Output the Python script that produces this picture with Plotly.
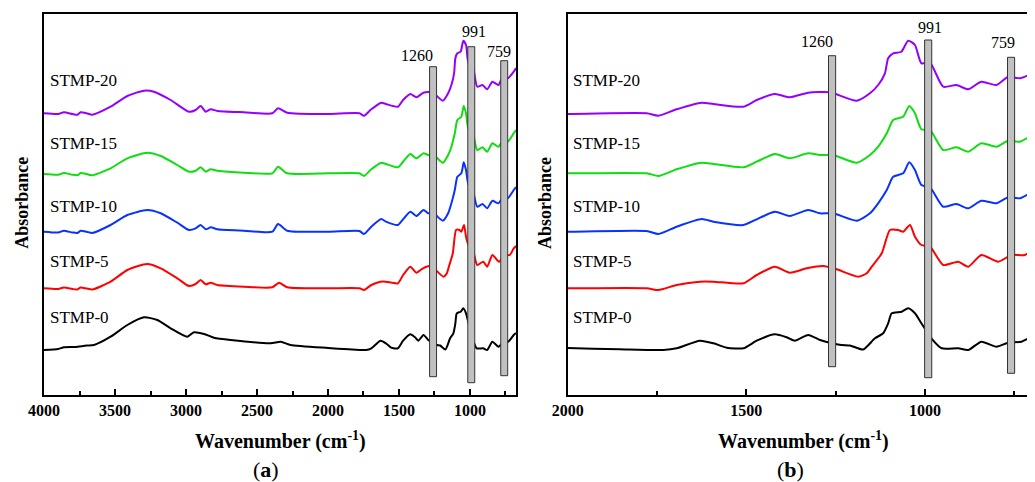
import plotly.graph_objects as go

# ---------------- data ----------------
SERIES = ["STMP-0", "STMP-5", "STMP-10", "STMP-15", "STMP-20"]
COLORS = ["#000000", "#ff0000", "#0a32ff", "#10dd10", "#9400ff"]

WN_0 = [4000, 3900, 3859, 3780, 3700, 3648, 3531, 3413, 3296, 3202, 3108, 2991, 2944,
        2873, 2803, 2685, 2404, 2333, 2263, 2000, 1854, 1732, 1695, 1630, 1592, 1555,
        1508, 1471, 1420, 1387, 1364, 1327, 1294, 1266, 1233, 1210, 1173, 1140, 1117,
        1103, 1093, 1065, 1047, 1028, 1010, 982, 953, 907, 879, 842, 800, 767, 730, 692, 676]
ABS_0 = [0.45, 0.46, 0.477, 0.48, 0.495, 0.50, 0.583, 0.70, 0.777, 0.75, 0.667, 0.583, 0.627,
         0.61, 0.573, 0.55, 0.517, 0.533, 0.50, 0.47, 0.457, 0.45, 0.467, 0.543, 0.517, 0.473,
         0.467, 0.543, 0.607, 0.577, 0.543, 0.60, 0.55, 0.523, 0.50, 0.495, 0.455, 0.567, 0.617,
         0.717, 0.817, 0.833, 0.867, 0.817, 0.717, 0.567, 0.467, 0.467, 0.45, 0.533, 0.483, 0.523, 0.533, 0.60, 0.62]

WN_5 = [4000, 3900, 3860, 3800, 3765, 3742, 3700, 3660, 3531, 3413, 3273, 3178, 3061, 2979,
        2932, 2897, 2861, 2826, 2779, 2592, 2392, 2345, 2287, 2000, 1779, 1746, 1695, 1630,
        1592, 1508, 1471, 1420, 1378, 1331, 1285, 1247, 1187, 1163, 1149, 1121, 1098, 1075,
        1061, 1042, 1028, 1010, 986, 949, 907, 879, 842, 795, 758, 720, 692, 676]
ABS_5 = [1.067, 1.06, 1.075, 1.06, 1.055, 1.075, 1.065, 1.055, 1.133, 1.25, 1.31, 1.267, 1.167, 1.09,
         1.11, 1.15, 1.107, 1.123, 1.10, 1.083, 1.077, 1.123, 1.077, 1.067, 1.067, 1.05, 1.10, 1.133,
         1.133, 1.117, 1.20, 1.283, 1.223, 1.267, 1.29, 1.257, 1.183, 1.217, 1.283, 1.417, 1.65, 1.65,
         1.633, 1.70, 1.583, 1.50, 1.483, 1.30, 1.333, 1.283, 1.40, 1.333, 1.40, 1.40, 1.467, 1.49]

WN_10 = [4000, 3900, 3860, 3800, 3765, 3742, 3700, 3660, 3531, 3413, 3273, 3178, 3061, 2979,
         2932, 2897, 2861, 2826, 2779, 2592, 2392, 2352, 2287, 2000, 1779, 1746, 1695, 1625,
         1592, 1508, 1471, 1420, 1378, 1327, 1294, 1257, 1191, 1154, 1131, 1107, 1089, 1061,
         1044, 1028, 1010, 986, 949, 912, 879, 842, 800, 767, 734, 692, 676]
ABS_10 = [1.633, 1.625, 1.643, 1.625, 1.62, 1.643, 1.633, 1.62, 1.70, 1.80, 1.85, 1.817, 1.723, 1.65,
          1.667, 1.70, 1.657, 1.677, 1.657, 1.643, 1.633, 1.71, 1.643, 1.633, 1.64, 1.61, 1.683, 1.76,
          1.733, 1.70, 1.757, 1.833, 1.79, 1.85, 1.817, 1.817, 1.743, 1.817, 1.917, 2.05, 2.183, 2.217,
          2.327, 2.25, 2.10, 2.077, 1.883, 1.91, 1.867, 1.943, 1.917, 1.977, 1.967, 2.05, 2.08]

WN_15 = WN_10
ABS_15 = [2.21, 2.203, 2.22, 2.203, 2.197, 2.22, 2.21, 2.197, 2.267, 2.367, 2.423, 2.39, 2.30, 2.233,
          2.243, 2.277, 2.233, 2.257, 2.243, 2.223, 2.217, 2.283, 2.217, 2.217, 2.217, 2.19, 2.257, 2.323,
          2.31, 2.277, 2.333, 2.41, 2.367, 2.417, 2.40, 2.40, 2.323, 2.40, 2.483, 2.617, 2.75, 2.783,
          2.89, 2.817, 2.657, 2.65, 2.45, 2.477, 2.433, 2.517, 2.483, 2.543, 2.533, 2.617, 2.65]

WN_20 = [4000, 3900, 3860, 3800, 3765, 3742, 3700, 3660, 3531, 3413, 3296, 3226, 3108, 2979,
         2932, 2897, 2861, 2826, 2779, 2592, 2392, 2352, 2287, 2000, 1779, 1746, 1695, 1625,
         1592, 1508, 1471, 1420, 1378, 1327, 1266, 1191, 1154, 1131, 1112, 1103, 1089, 1066,
         1047, 1028, 1010, 986, 949, 912, 879, 842, 800, 767, 734, 692, 676]
ABS_20 = [2.817, 2.81, 2.827, 2.81, 2.803, 2.827, 2.817, 2.803, 2.883, 2.99, 3.043, 3.033, 2.95, 2.833,
          2.85, 2.89, 2.833, 2.857, 2.84, 2.827, 2.817, 2.867, 2.823, 2.81, 2.817, 2.793, 2.857, 2.923,
          2.91, 2.883, 2.95, 3.01, 2.977, 3.023, 3.027, 2.943, 3.017, 3.10, 3.217, 3.367, 3.417, 3.433,
          3.543, 3.50, 3.317, 3.323, 3.083, 3.10, 3.057, 3.133, 3.10, 3.183, 3.167, 3.233, 3.27]

PEAKS = [1260, 991, 759]
PEAK_LABELS = ["1260", "991", "759"]
TICKS_A = [4000, 3500, 3000, 2500, 2000, 1500, 1000]
TICKS_B = [2000, 1500, 1000]

WNS = [WN_0, WN_5, WN_10, WN_15, WN_20]
ABSS = [ABS_0, ABS_5, ABS_10, ABS_15, ABS_20]

# ---------------- layout helpers ----------------
# the page body adds an 8px offset, so the figure is laid out in window pixels minus 8
OFF = 8
W, H = 1035 - OFF, 482 - OFF
def px(x):
    return (x - OFF) / W
def py(y):
    return 1 - (y - OFF) / H

SERIF = "Liberation Serif"
fig = go.Figure()

for xa, ya in [("x", "y"), ("x2", "y2")]:
    for name, wn, ab, col in zip(SERIES, WNS, ABSS, COLORS):
        fig.add_trace(go.Scatter(x=wn, y=ab, mode="lines", name=name, xaxis=xa, yaxis=ya,
                                 line=dict(color=col, width=2, shape="spline", smoothing=0.6),
                                 showlegend=False, hoverinfo="skip"))

axis_common = dict(showgrid=False, zeroline=False, showline=True, linecolor="black",
                   linewidth=2, mirror=True, ticks="inside", ticklen=6, tickwidth=2,
                   tickcolor="black", automargin=False,
                   tickfont=dict(family=SERIF, size=16, color="black", weight="bold"),
                   minor=dict(dtick=250, ticks="inside", ticklen=4, tickwidth=2, tickcolor="black"))
yaxis_common = dict(showgrid=False, zeroline=False, showline=True, linecolor="black",
                    linewidth=2, mirror=True, showticklabels=False, ticks="",
                    automargin=False, range=[0, 3.81])

fig.update_layout(
    width=W, height=H, margin=dict(l=0, r=0, t=0, b=0),
    paper_bgcolor="white", plot_bgcolor="white",
    xaxis=dict(axis_common, domain=[px(44), px(516)], range=[4000, 676],
               tickvals=TICKS_A, anchor="y"),
    yaxis=dict(yaxis_common, domain=[py(395), py(14)], anchor="x"),
    xaxis2=dict(axis_common, domain=[px(567.7), 1.0], range=[2000, 692],
                tickvals=TICKS_B, anchor="y2"),
    yaxis2=dict(yaxis_common, domain=[py(395), py(14)], anchor="x2"),
)

# grey marker bars
bar_cfg = [
    ("x", "y", 49, [(0.183, 3.283), (0.123, 3.483), (0.193, 3.343)]),
    ("x2", "y2", 20, [(0.283, 3.393), (0.173, 3.55), (0.217, 3.377)]),
]
for xr, yr, w, extents in bar_cfg:
    for p, (y0, y1) in zip(PEAKS, extents):
        fig.add_shape(type="rect", xref=xr, yref=yr, x0=p - w / 2, x1=p + w / 2,
                      y0=y0, y1=y1, fillcolor="#c0c0c0",
                      line=dict(color="#333333", width=1), layer="above")

# peak labels (window pixel positions)
peak_lbl_pos = [
    [(417, 56), (474, 31.7), (499, 51.7)],
    [(816.7, 41), (930, 27.7), (1003, 42.7)],
]
for pos in peak_lbl_pos:
    for txt, (x, y) in zip(PEAK_LABELS, pos):
        fig.add_annotation(x=px(x), y=py(y), xref="paper", yref="paper", text=txt,
                           showarrow=False, xanchor="center", yanchor="middle",
                           font=dict(family=SERIF, size=16, color="black"))

# series labels
lbl_y = [317.7, 261, 206, 143.3, 80]
for x0 in (48, 571):
    for name, y in zip(SERIES, lbl_y):
        fig.add_annotation(x=px(x0), y=py(y), xref="paper", yref="paper", text=name,
                           showarrow=False, xanchor="left", yanchor="middle",
                           font=dict(family=SERIF, size=17, color="black"))

# axis titles and panel labels
for cx, ax_x, tag, tagx in [(280, 21.7, "a", 266), (803, 545, "b", 790)]:
    fig.add_annotation(x=px(cx), y=py(440), xref="paper", yref="paper",
                       text="Wavenumber (cm<sup>-1</sup>)", showarrow=False,
                       xanchor="center", yanchor="middle",
                       font=dict(family=SERIF, size=20, color="black", weight="bold"))
    fig.add_annotation(x=px(ax_x), y=py(203), xref="paper", yref="paper",
                       text="Absorbance", textangle=-90, showarrow=False,
                       xanchor="center", yanchor="middle",
                       font=dict(family=SERIF, size=18, color="black", weight="bold"))
    fig.add_annotation(x=px(tagx), y=py(469), xref="paper", yref="paper",
                       text="(<b>%s</b>)" % tag, showarrow=False,
                       xanchor="center", yanchor="middle",
                       font=dict(family=SERIF, size=22, color="black"))

fig.write_html("out.html")
